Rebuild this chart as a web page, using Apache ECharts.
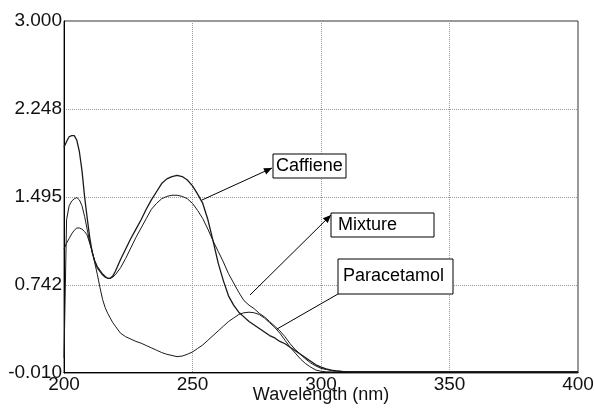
<!DOCTYPE html>
<html><head><meta charset="utf-8">
<script src="https://cdn.jsdelivr.net/npm/echarts@6/dist/echarts.min.js"></script>
<style>html,body{margin:0;padding:0;background:#fff}#c{width:594px;height:408px}</style>
</head><body><div id="c"></div>
<script>
const wavelengths = [200,201,202,203,204,205,206,207,208,209,210,211,212,213,214,215,216,217,218,219,220,222,224,226,228,230,232,234,236,238,240,242,244,246,248,250,252,254,256,258,260,262,264,266,268,270,272,274,276,278,280,282,284,286,288,290,292,294,296,298,300,302,304,306,308,310,315,320,330,340,350,360,370,380,390,400];
const caffiene = [1.92,1.97,2.01,2.02,2.02,1.98,1.88,1.72,1.50,1.32,1.15,1.02,0.94,0.89,0.86,0.83,0.81,0.80,0.80,0.82,0.86,0.96,1.05,1.14,1.22,1.30,1.39,1.47,1.54,1.61,1.65,1.67,1.68,1.67,1.64,1.59,1.52,1.44,1.30,1.12,0.93,0.78,0.65,0.57,0.51,0.47,0.43,0.40,0.37,0.34,0.31,0.29,0.26,0.24,0.21,0.18,0.15,0.12,0.09,0.06,0.04,0.025,0.015,0.008,0.004,0.002,0,0,0,0,0,0,0,0,0,0];
const mixture = [0.12,1.30,1.42,1.46,1.48,1.49,1.47,1.42,1.33,1.22,1.11,1.02,0.95,0.90,0.87,0.84,0.82,0.80,0.80,0.81,0.83,0.89,0.97,1.06,1.15,1.23,1.31,1.39,1.44,1.48,1.50,1.51,1.51,1.50,1.48,1.44,1.38,1.31,1.22,1.12,1.03,0.94,0.84,0.76,0.68,0.61,0.57,0.54,0.50,0.47,0.43,0.39,0.35,0.30,0.24,0.19,0.15,0.11,0.075,0.05,0.03,0.02,0.012,0.007,0.004,0.002,0,0,0,0,0,0,0,0,0,0];
const paracetamol = [1.05,1.10,1.14,1.18,1.21,1.23,1.23,1.22,1.20,1.17,1.10,1.03,0.93,0.83,0.72,0.62,0.55,0.50,0.46,0.42,0.39,0.33,0.30,0.28,0.26,0.245,0.225,0.205,0.185,0.165,0.15,0.14,0.13,0.135,0.15,0.17,0.20,0.23,0.27,0.31,0.35,0.39,0.43,0.46,0.49,0.505,0.51,0.505,0.49,0.46,0.42,0.38,0.33,0.27,0.21,0.16,0.11,0.07,0.04,0.015,0.005,0,0,0,0,0,0,0,0,0,0,0,0,0,0,0];
const yTickLabels = ['-0.010','0.742','1.495','2.248','3.000'];
const seriesNames = ['Caffiene','Mixture','Paracetamol'];

const FONT = '"Liberation Sans", Arial, sans-serif';
const chart = echarts.init(document.getElementById('c'), null, {renderer:'canvas'});
function pairs(v){ return wavelengths.map((w,i)=>[w,v[i]]); }
const lineStyle = {color:'#1a1a1a', width:1};

function arrowHead(x1,y1,x2,y2,len,half){
  const dx=x2-x1, dy=y2-y1, L=Math.hypot(dx,dy), ux=dx/L, uy=dy/L;
  const bx=x2-ux*len, by=y2-uy*len, px=-uy, py=ux;
  return [[x2,y2],[bx+px*half,by+py*half],[bx-px*half,by-py*half]];
}
function annotation(label, box, from, to, withHead){
  const els = [];
  els.push({type:'line', shape:{x1:from[0],y1:from[1],x2:to[0],y2:to[1]}, style:{stroke:'#000',lineWidth:1}, z:10});
  if (withHead) els.push({type:'polygon', shape:{points:arrowHead(from[0],from[1],to[0],to[1],8,3.5)}, style:{fill:'#000'}, z:11});
  els.push({type:'rect', shape:{x:box[0],y:box[1],width:box[2],height:box[3]}, style:{fill:'#fff',stroke:'#000',lineWidth:1}, z:12});
  els.push({type:'text', x:box[0]+box[4], y:box[1]+box[3]/2, style:{text:label, font:'18px '+FONT, fill:'#000', verticalAlign:'middle', textAlign:'left'}, z:13});
  return els;
}

chart.setOption({
  animation:false,
  backgroundColor:'#fff',
  grid:{left:64, right:16, top:21, bottom:35, show:true, borderColor:'#333', borderWidth:1, containLabel:false, outerBoundsMode:'none'},
  xAxis:{type:'value', min:200, max:400, interval:50,
    name:'Wavelength (nm)', nameLocation:'middle', nameGap:13, nameMoveOverlap:false,
    nameTextStyle:{fontFamily:FONT, fontSize:18, color:'#111'},
    axisLine:{lineStyle:{color:'#000'}}, axisTick:{show:false},
    axisLabel:{fontFamily:FONT, fontSize:19, color:'#111', margin:2},
    splitLine:{show:true, lineStyle:{type:'dotted', color:'#999', width:1}}},
  yAxis:{type:'value', min:-0.01, max:3.0, interval:0.7525,
    axisLine:{show:true, lineStyle:{color:'#000'}}, axisTick:{show:false},
    axisLabel:{fontFamily:FONT, fontSize:19, color:'#111', margin:2,
      formatter:(v,i)=>yTickLabels[i]},
    splitLine:{show:true, lineStyle:{type:'dotted', color:'#999', width:1}}},
  series:[
    {name:seriesNames[0], type:'line', data:pairs(caffiene), showSymbol:false, lineStyle:{...lineStyle, width:1.3}, z:3},
    {name:seriesNames[1], type:'line', data:pairs(mixture), showSymbol:false, lineStyle:lineStyle, z:3},
    {name:seriesNames[2], type:'line', data:pairs(paracetamol), showSymbol:false, lineStyle:lineStyle, z:3}
  ],
  graphic:[].concat(
    annotation('Caffiene',[273,154,73,24,3],[202,200],[272,168],true),
    annotation('Mixture',[331,213,103,24,7],[250,295],[331,215],true),
    annotation('Paracetamol',[338,259,115,35,5],[277,329],[338,294],false)
  )
});
</script></body></html>
